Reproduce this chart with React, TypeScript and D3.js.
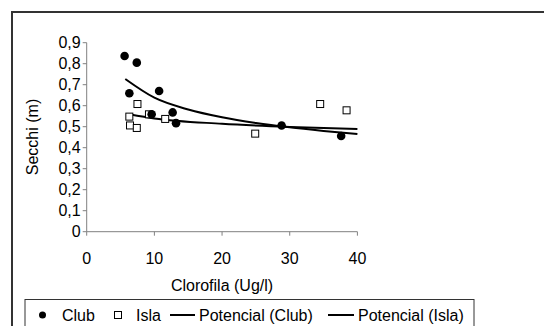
import * as d3 from 'd3'

// Club (filled circles)
const clubX = [5.6, 7.4, 6.3, 10.7, 9.6, 12.7, 13.2, 28.8, 37.6]
const clubY = [0.837, 0.805, 0.659, 0.67, 0.559, 0.568, 0.517, 0.506, 0.456]

// Isla (open squares)
const islaX = [6.3, 6.4, 7.4, 7.5, 9.2, 11.6, 24.9, 34.5, 38.4]
const islaY = [0.548, 0.506, 0.494, 0.608, 0.559, 0.537, 0.467, 0.608, 0.578]

// trend lines (Potencial)
const clubTrendX = [5.7, 10, 15, 20, 25, 30, 35, 40]
const clubTrendY = [0.727, 0.638, 0.582, 0.545, 0.518, 0.497, 0.48, 0.465]
const islaTrendX = [6.3, 10, 20, 30, 40]
const islaTrendY = [0.559, 0.539, 0.514, 0.499, 0.489]

const xTicks = [0, 10, 20, 30, 40]
const yTicks = [0, 0.1, 0.2, 0.3, 0.4, 0.5, 0.6, 0.7, 0.8, 0.9]

const legendItems = ['Club', 'Isla', 'Potencial (Club)', 'Potencial (Isla)']

const W = 544
const H = 326
const font = '"Liberation Sans", Arial, sans-serif'
const axisColor = '#808080'
const fs = 16

export default function App() {
  const x = d3.scaleLinear().domain([0, 40]).range([86.7, 357.4])
  const y = d3.scaleLinear().domain([0, 0.9]).range([231.7, 42.7])
  const fmt = (v: number) => d3.format('.1f')(v).replace('.', ',').replace(',0', '')

  const line = d3.line<[number, number]>()
    .x(d => x(d[0]))
    .y(d => y(d[1]))
    .curve(d3.curveMonotoneX)

  const clubTrend = clubTrendX.map((v, i) => [v, clubTrendY[i]] as [number, number])
  const islaTrend = islaTrendX.map((v, i) => [v, islaTrendY[i]] as [number, number])

  const legY = 315
  return (
    <svg width={W} height={H} style={{ position: 'absolute', left: 0, top: 0 }} fontFamily={font}>
      <rect x={0} y={0} width={W} height={H} fill="#fff" />
      {/* outer frame */}
      <rect x={12} y={12} width={700} height={500} fill="none" stroke="#333" strokeWidth={2} />

      {/* y axis */}
      <line x1={x(0)} x2={x(0)} y1={y(0.9)} y2={y(0)} stroke={axisColor} />
      {yTicks.map(t => (
        <g key={t}>
          <line x1={x(0) - 4} x2={x(0)} y1={y(t)} y2={y(t)} stroke={axisColor} />
          <text x={x(0) - 6} y={y(t)} dy="0.35em" textAnchor="end" fontSize={fs}>{fmt(t)}</text>
        </g>
      ))}
      {/* x axis */}
      <line x1={x(0)} x2={x(40)} y1={y(0)} y2={y(0)} stroke={axisColor} />
      {xTicks.map(t => (
        <g key={t}>
          <line x1={x(t)} x2={x(t)} y1={y(0)} y2={y(0) + 4} stroke={axisColor} />
          <text x={x(t)} y={264} textAnchor="middle" fontSize={fs}>{t}</text>
        </g>
      ))}
      <text x={222} y={291} textAnchor="middle" fontSize={fs}>Clorofila (Ug/l)</text>
      <text transform={`translate(38,137) rotate(-90)`} textAnchor="middle" fontSize={fs}>Secchi (m)</text>

      {/* trend lines */}
      <path d={line(clubTrend) || ''} fill="none" stroke="#000" strokeWidth={2} />
      <path d={line(islaTrend) || ''} fill="none" stroke="#000" strokeWidth={2} />

      {/* points */}
      {islaX.map((v, i) => (
        <rect key={'i' + i} x={x(v) - 3.5} y={y(islaY[i]) - 3.5} width={7} height={7} fill="#fff" stroke="#000" strokeWidth={1} />
      ))}
      {clubX.map((v, i) => (
        <circle key={'c' + i} cx={x(v)} cy={y(clubY[i])} r={4.3} fill="#000" />
      ))}

      {/* legend */}
      <rect x={25} y={299.5} width={449} height={60} fill="#fff" stroke="#333" strokeWidth={1} />
      <circle cx={42.5} cy={legY} r={3.5} fill="#000" />
      <text x={62} y={legY} dy="0.35em" fontSize={fs}>{legendItems[0]}</text>
      <rect x={114.5} y={legY - 3.5} width={7} height={7} fill="#fff" stroke="#000" />
      <text x={136} y={legY} dy="0.35em" fontSize={fs}>{legendItems[1]}</text>
      <line x1={170} x2={195} y1={legY} y2={legY} stroke="#000" strokeWidth={2} />
      <text x={199} y={legY} dy="0.35em" fontSize={fs}>{legendItems[2]}</text>
      <line x1={328} x2={354} y1={legY} y2={legY} stroke="#000" strokeWidth={2} />
      <text x={358} y={legY} dy="0.35em" fontSize={fs}>{legendItems[3]}</text>
    </svg>
  )
}
